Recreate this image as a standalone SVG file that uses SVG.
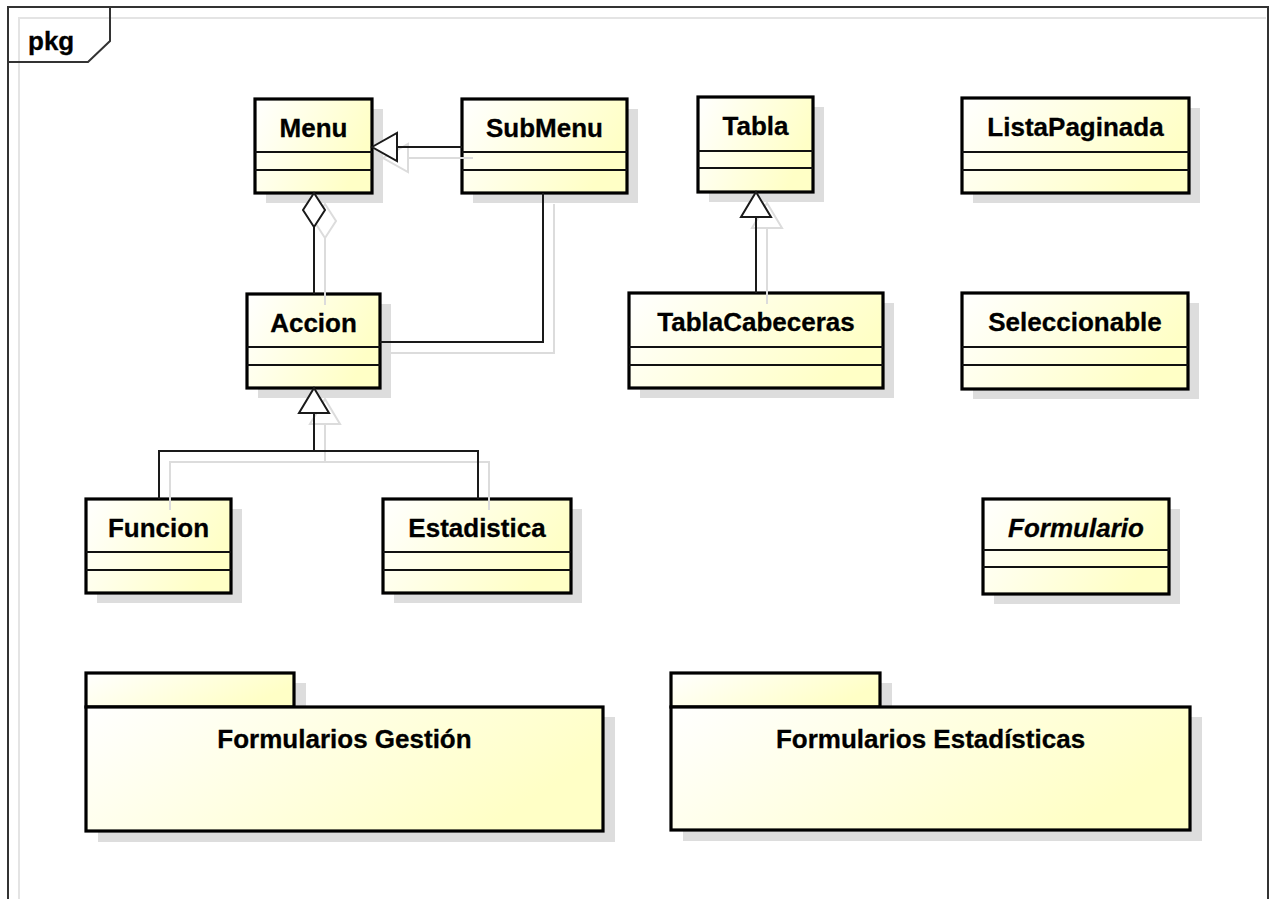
<svg xmlns="http://www.w3.org/2000/svg" width="1276" height="899" viewBox="0 0 1276 899">
  <defs>
    <linearGradient id="fill" x1="0" y1="0" x2="1" y2="0.35">
      <stop offset="0" stop-color="#ffffff"/>
      <stop offset="1" stop-color="#ffffc6"/>
    </linearGradient>
    <style>
      .box { fill: url(#fill); stroke: #000; stroke-width: 3.2; }
      .shadow { fill: #dddddd; stroke: none; }
      .div { stroke: #111; stroke-width: 2; }
      .name { font-family: "Liberation Sans", Arial, sans-serif; font-weight: bold; font-size: 26px; fill: #000; stroke: #000; stroke-width: 0.3; text-anchor: middle; }
      .abstract { font-style: italic; }
      .line { fill: none; stroke: #1a1a1a; stroke-width: 2; }
      .lineshadow { fill: none; stroke: #dcdcdc; stroke-width: 2; }
      .head { fill: #fff; stroke: #1a1a1a; stroke-width: 2; }
      .frame { fill: none; stroke: #333; stroke-width: 2; }
    </style>
  </defs>

  <rect width="1276" height="899" fill="#ffffff"/>

  <!-- package frame -->
  <g id="frame">
    <polyline points="19,899 19,18 1266,18" fill="none" stroke="#e4e4e4" stroke-width="2"/>
    <rect class="frame" x="8" y="7" width="1260" height="920"/>
    <polyline class="frame" points="110,7 110,41 88,62 8,62"/>
    <text x="28" y="50" class="name" style="text-anchor:start">pkg</text>
  </g>

  <!-- classes -->
  <g id="Menu">
    <rect class="shadow" x="266" y="109" width="117" height="94"/>
    <rect class="box" x="255" y="99" width="117" height="94"/>
    <line class="div" x1="255" y1="152" x2="372" y2="152"/>
    <line class="div" x1="255" y1="170" x2="372" y2="170"/>
    <text class="name" x="313.5" y="137">Menu</text>
  </g>
  <g id="SubMenu">
    <rect class="shadow" x="473" y="109" width="165" height="94"/>
    <rect class="box" x="462" y="99" width="165" height="94"/>
    <line class="div" x1="462" y1="152" x2="627" y2="152"/>
    <line class="div" x1="462" y1="170" x2="627" y2="170"/>
    <text class="name" x="544.5" y="137">SubMenu</text>
  </g>
  <g id="Accion">
    <rect class="shadow" x="258" y="304" width="133" height="94"/>
    <rect class="box" x="247" y="294" width="133" height="94"/>
    <line class="div" x1="247" y1="347" x2="380" y2="347"/>
    <line class="div" x1="247" y1="365" x2="380" y2="365"/>
    <text class="name" x="313.5" y="332">Accion</text>
  </g>
  <g id="Funcion">
    <rect class="shadow" x="97" y="509" width="145" height="94"/>
    <rect class="box" x="86" y="499" width="145" height="94"/>
    <line class="div" x1="86" y1="552" x2="231" y2="552"/>
    <line class="div" x1="86" y1="570" x2="231" y2="570"/>
    <text class="name" x="158.5" y="537">Funcion</text>
  </g>
  <g id="Estadistica">
    <rect class="shadow" x="394" y="509" width="188" height="94"/>
    <rect class="box" x="383" y="499" width="188" height="94"/>
    <line class="div" x1="383" y1="552" x2="571" y2="552"/>
    <line class="div" x1="383" y1="570" x2="571" y2="570"/>
    <text class="name" x="477" y="537">Estadistica</text>
  </g>
  <g id="Tabla">
    <rect class="shadow" x="709" y="107" width="115" height="95"/>
    <rect class="box" x="698" y="97" width="115" height="95"/>
    <line class="div" x1="698" y1="151" x2="813" y2="151"/>
    <line class="div" x1="698" y1="168" x2="813" y2="168"/>
    <text class="name" x="755.5" y="135">Tabla</text>
  </g>
  <g id="TablaCabeceras">
    <rect class="shadow" x="640" y="303" width="254" height="95"/>
    <rect class="box" x="629" y="293" width="254" height="95"/>
    <line class="div" x1="629" y1="347" x2="883" y2="347"/>
    <line class="div" x1="629" y1="365" x2="883" y2="365"/>
    <text class="name" x="756" y="331">TablaCabeceras</text>
  </g>
  <g id="ListaPaginada">
    <rect class="shadow" x="973" y="108" width="227" height="95"/>
    <rect class="box" x="962" y="98" width="227" height="95"/>
    <line class="div" x1="962" y1="152" x2="1189" y2="152"/>
    <line class="div" x1="962" y1="170" x2="1189" y2="170"/>
    <text class="name" x="1075.5" y="136">ListaPaginada</text>
  </g>
  <g id="Seleccionable">
    <rect class="shadow" x="973" y="303" width="226" height="96"/>
    <rect class="box" x="962" y="293" width="226" height="96"/>
    <line class="div" x1="962" y1="347" x2="1188" y2="347"/>
    <line class="div" x1="962" y1="365" x2="1188" y2="365"/>
    <text class="name" x="1075" y="331">Seleccionable</text>
  </g>
  <g id="Formulario">
    <rect class="shadow" x="994" y="509" width="186" height="95"/>
    <rect class="box" x="983" y="499" width="186" height="95"/>
    <line class="div" x1="983" y1="550" x2="1169" y2="550"/>
    <line class="div" x1="983" y1="567" x2="1169" y2="567"/>
    <text class="name abstract" x="1076" y="537">Formulario</text>
  </g>

  <!-- packages -->
  <g id="FormulariosGestion">
    <rect class="shadow" x="98" y="683" width="208" height="34"/>
    <rect class="shadow" x="98" y="717" width="517" height="125"/>
    <rect class="box" x="86" y="673" width="208" height="34"/>
    <rect class="box" x="86" y="707" width="517" height="124"/>
    <text class="name" x="344.5" y="748">Formularios Gestión</text>
  </g>
  <g id="FormulariosEstadisticas">
    <rect class="shadow" x="683" y="683" width="209" height="34"/>
    <rect class="shadow" x="683" y="717" width="519" height="124"/>
    <rect class="box" x="671" y="673" width="209" height="34"/>
    <rect class="box" x="671" y="707" width="519" height="123"/>
    <text class="name" x="930.5" y="748">Formularios Estadísticas</text>
  </g>

  <!-- connectors -->
  <g id="connectors">
    <!-- soft offset copies -->
    <g transform="translate(11,11)">
      <polyline class="lineshadow" points="462,147 397,147"/>
      <polygon class="lineshadow" points="372,147 397,133 397,161"/>
      <polygon class="lineshadow" points="314,193 325,210 314,227 303,210"/>
      <polyline class="lineshadow" points="314,227 314,294"/>
      <polyline class="lineshadow" points="380,342 543,342 543,193"/>
      <polygon class="lineshadow" points="314,388 329,413 299,413"/>
      <polyline class="lineshadow" points="314,413 314,451"/>
      <polyline class="lineshadow" points="159,499 159,451 478,451 478,499"/>
      <polygon class="lineshadow" points="756,192 771,217 741,217"/>
      <polyline class="lineshadow" points="756,217 756,293"/>
    </g>

    <!-- SubMenu generalizes Menu -->
    <polyline class="line" points="462,147 397,147"/>
    <polygon class="head" points="372,147 397,133 397,161"/>

    <!-- Menu aggregates Accion -->
    <polyline class="line" points="314,227 314,294"/>
    <polygon class="head" points="314,193 325,210 314,227 303,210"/>

    <!-- Accion to SubMenu association -->
    <polyline class="line" points="380,342 543,342 543,193"/>

    <!-- Funcion / Estadistica generalize Accion -->
    <polyline class="line" points="314,413 314,451"/>
    <polyline class="line" points="159,499 159,451 478,451 478,499"/>
    <polygon class="head" points="314,388 329,413 299,413"/>

    <!-- TablaCabeceras generalizes Tabla -->
    <polyline class="line" points="756,217 756,293"/>
    <polygon class="head" points="756,192 771,217 741,217"/>
  </g>
</svg>
